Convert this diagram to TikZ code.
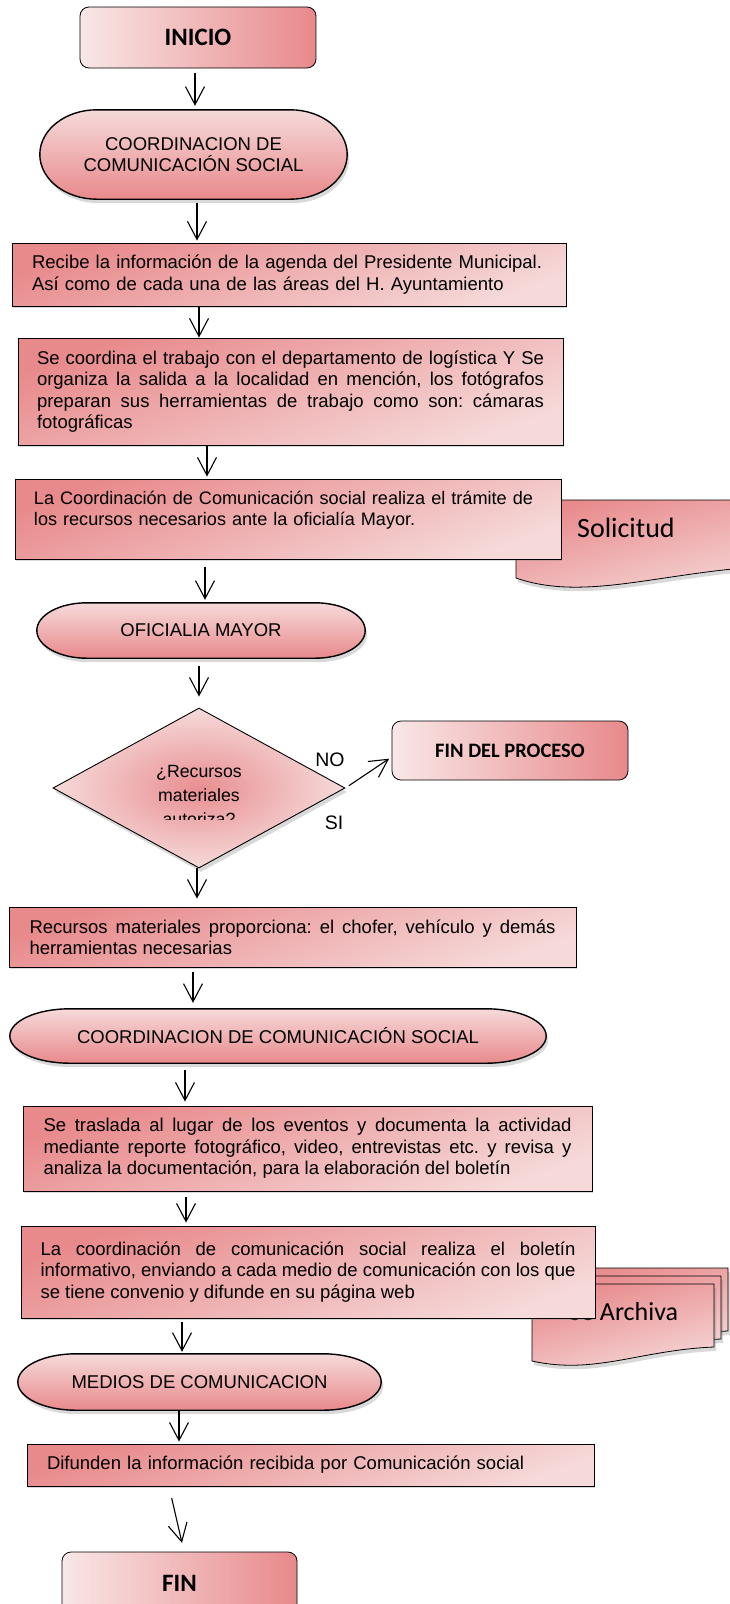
\documentclass[tikz,border=0pt]{standalone}
\usepackage{fontspec}
\setmainfont{Liberation Sans}
\newfontfamily\calibri{Carlito}
\usetikzlibrary{shapes.geometric,arrows.meta,shadows,calc}
\definecolor{rosaOscuro}{HTML}{E8898B}
\definecolor{rosaMedio}{HTML}{E88E91}
\definecolor{rosaClaro}{HTML}{F6DADA}
\definecolor{rosaPalido}{HTML}{F9E7E7}
\newcommand{\cuerpo}{\fontsize{18.5}{21.3}\selectfont}
\tolerance=3000
\frenchspacing
\pgfdeclarelayer{fondo}
\pgfsetlayers{fondo,main}
\newcommand{\capsula}[2][55]{%
  \begin{pgfonlayer}{fondo}
  \path[capsula] let \p1=(#2.north west), \p2=(#2.south east), \n1={(\y1-\y2)/2} in
    (\x1+#1pt,\y1) -- (\x2-#1pt,\y1)
    arc[start angle=90, end angle=-90, x radius=#1pt, y radius=\n1*1pt]
    -- (\x1+#1pt,\y2)
    arc[start angle=270, end angle=90, x radius=#1pt, y radius=\n1*1pt] -- cycle;
  \end{pgfonlayer}}
\begin{document}
\begin{tikzpicture}[x=1pt, y=-1pt,
  caja/.style={draw, line width=0.9pt, top color=rosaOscuro, bottom color=rosaClaro, shading angle=20,
    inner sep=2pt, font=\cuerpo, drop shadow={shadow xshift=1pt, shadow yshift=-2pt, opacity=.3}},
  capsulatexto/.style={inner sep=0pt, align=center, font=\cuerpo},
  capsula/.style={draw, line width=1.4pt, top color=rosaClaro, bottom color=rosaOscuro,
    drop shadow={shadow xshift=2pt, shadow yshift=-4pt, opacity=.3}},
  extremo/.style={draw, line width=0.8pt, rounded corners=9pt, left color=rosaPalido, right color=rosaOscuro},
  decision/.style={diamond, draw, line width=0.9pt, inner color=rosaMedio, outer color=rosaClaro, inner sep=0pt,
    drop shadow={shadow xshift=2pt, shadow yshift=-4pt, opacity=.3}},
  docu/.style={draw, line width=0.8pt, top color=rosaOscuro, bottom color=rosaClaro, shading angle=15,
    drop shadow={shadow xshift=2pt, shadow yshift=-4pt, opacity=.3}},
  doctexto/.style={anchor=base west, inner sep=0pt},
  etiqueta/.style={font=\fontsize{19.5}{22}\selectfont, inner sep=0pt},
  flecha/.style={-{Straight Barb[length=18pt,width=19pt]}, line width=1.1pt}]
\useasboundingbox (0,0) rectangle (730,1604);

\path[docu] (516,500) -- (770,500) -- (770,566) .. controls (660,572) and (585,602) .. (516,578) -- cycle;
\node[doctexto, font=\calibri\fontsize{28}{32}\selectfont] (solicitud) at (577,537) {Solicitud};

\foreach \dx/\dy in {14/16, 7/8, 0/0}
  \path[docu, xshift=\dx pt, yshift=\dy pt] (532,1284) -- (714,1284) -- (714,1347)
    .. controls (640,1350) and (595,1375) .. (532,1361) -- cycle;
\node[doctexto, font=\calibri\fontsize{26}{30}\selectfont] (archiva) at (569,1320) {Se Archiva};

\node[extremo, minimum width=236pt, minimum height=61pt, font=\calibri\bfseries\fontsize{25}{30}\selectfont] (inicio) at (198,37.5) {INICIO};

\node[capsulatexto, minimum width=307pt, minimum height=89pt] (coorda) at (193.5,154.5) {COORDINACION DE\\COMUNICACIÓN SOCIAL};
\capsula[57]{coorda}

\node[caja, minimum width=554pt, minimum height=63pt, text width=514pt, align=left] (recibe) at (289,274.5)
  {Recibe la información de la agenda del Presidente Municipal.\\Así como de cada una de las áreas del H. Ayuntamiento};

\node[caja, minimum width=545pt, minimum height=107pt, text width=507pt, align=justify] (coordina) at (290.5,391.5)
  {Se coordina el trabajo con el departamento de logística Y Se\linebreak organiza la salida a la localidad en mención, los fotógrafos\linebreak preparan sus herramientas de trabajo como son: cámaras\linebreak fotográficas};

\node[caja, minimum width=546pt, minimum height=80pt, text width=508pt, align=left, text depth=42pt,
  font=\fontsize{18.1}{21.3}\selectfont] (tramite) at (288,519)
  {La Coordinación de Comunicación social realiza el trámite de\\los recursos necesarios ante la oficialía Mayor.};

\node[capsulatexto, minimum width=328pt, minimum height=55pt] (oficialia) at (201,630.5) {OFICIALIA MAYOR};
\capsula[50]{oficialia}

\node[decision, minimum width=292pt, minimum height=160pt] (autoriza) at (199,788) {};
\begin{scope}
\clip (100,740) rectangle (300,819);
\node[font=\fontsize{17.7}{24}\selectfont, text width=150pt, align=center, anchor=base, inner sep=0pt] (pregunta) at (199,777)
  {¿Recursos\\materiales\\autoriza?};
\end{scope}

\node[etiqueta] (no) at (330,760) {NO};
\node[etiqueta] (si) at (334,823) {SI};

\node[extremo, minimum width=236pt, minimum height=59pt, font=\calibri\bfseries\fontsize{20.5}{24}\selectfont] (finproc) at (510,750.5) {FIN DEL PROCESO};

\node[caja, minimum width=567pt, minimum height=60pt, text width=526pt, align=justify] (recursos) at (292.5,937)
  {Recursos materiales proporciona: el chofer, vehículo y demás\linebreak herramientas necesarias};

\node[capsulatexto, minimum width=536pt, minimum height=54pt] (coordb) at (278,1036) {COORDINACION DE COMUNICACIÓN SOCIAL};
\capsula[60]{coordb}

\node[caja, minimum width=569pt, minimum height=85pt, text width=528pt, align=justify] (traslada) at (307.5,1148.5)
  {Se traslada al lugar de los eventos y documenta la actividad\linebreak mediante reporte fotográfico, video, entrevistas etc. y revisa y\linebreak analiza la documentación, para la elaboración del boletín};

\node[caja, minimum width=574pt, minimum height=92pt, text width=535pt, align=justify] (boletin) at (308,1272)
  {La coordinación de comunicación social realiza el boletín\linebreak informativo, enviando a cada medio de comunicación con los que\linebreak se tiene convenio y difunde en su página web};

\node[capsulatexto, minimum width=363pt, minimum height=56pt] (medios) at (199.5,1382) {MEDIOS DE COMUNICACION};
\capsula[58]{medios}

\node[caja, minimum width=567pt, minimum height=42pt, text width=527pt, align=left] (difunden) at (310.5,1465)
  {Difunden la información recibida por Comunicación social};

\node[extremo, minimum width=235pt, minimum height=62pt, font=\calibri\bfseries\fontsize{25}{30}\selectfont] (fin) at (179.5,1583) {FIN};

\foreach \desde/\hasta/\xx/\ini/\fin in {inicio/coorda/195/5/4, coorda/recibe/197/4/2, recibe/coordina/199/1/0,
    coordina/tramite/207/0/2, tramite/oficialia/205/8/3, oficialia/autoriza/199/8/11, autoriza/recursos/197/0/8,
    recursos/coordb/193/5/6, coordb/traslada/185/7/4, traslada/boletin/186/6/3, boletin/medios/182/4/2,
    medios/difunden/179/0/2}
  \draw[flecha, shorten <=\ini pt, shorten >=\fin pt] (\desde.south -| \xx,0) -- (\hasta.north -| \xx,0);

\draw[flecha, shorten <=4pt, shorten >=3pt] (autoriza.east) -- (finproc.west |- 0,757);
\draw[flecha, shorten <=12pt, shorten >=9pt] (difunden.south -| 169,0) -- (fin.north -| 184,0);
\end{tikzpicture}
\end{document}
